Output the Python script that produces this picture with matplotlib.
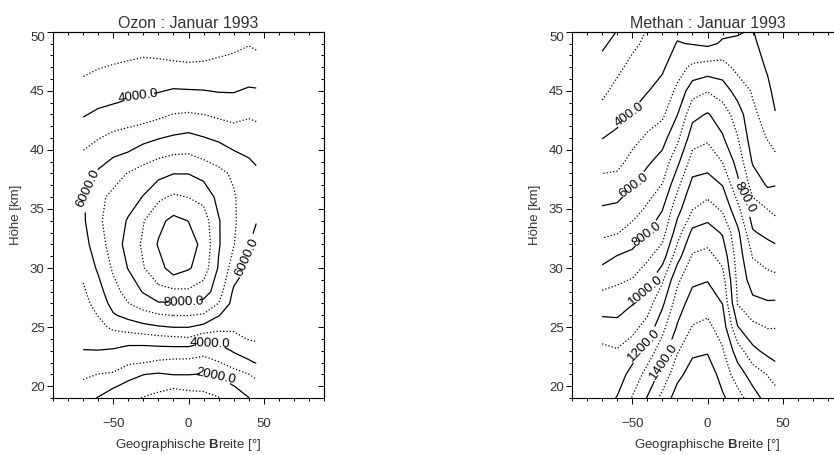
import matplotlib.pyplot as plt
import numpy as np
from matplotlib.ticker import MultipleLocator

plt.rcParams['font.family'] = ['Liberation Sans', 'DejaVu Sans']
plt.rcParams['mathtext.fontset'] = 'custom'
plt.rcParams['mathtext.bf'] = 'Liberation Sans:bold'
plt.rcParams['mathtext.rm'] = 'Liberation Sans'

# Gitter: geographische Breite und Hoehe (km)
breite = [-70, -60, -50, -40, -30, -20, -10, 0, 10, 20, 30, 40, 45]
hoehe_ozon = [19, 20, 21, 22, 23, 24, 25, 26, 27, 28, 30, 32, 34, 36, 38, 40, 42, 44, 46, 48, 50, 51]
hoehe_methan = [19, 21, 23, 25, 27, 29, 31, 33, 35, 37, 39, 41, 43, 45, 47, 49, 51]

# Ozon, je Zeile ein Breitengrad (Werte von unten nach oben)
ozon = [
    [2350, 2750, 3200, 3600, 3980, 4200, 4400, 4550, 4700, 4850, 5250, 5600, 5850, 5880, 5600, 4980, 4250, 3600, 3050, 2550, 2100, 1900],
    [1950, 2500, 2980, 3500, 3980, 4350, 4700, 5030, 5350, 5630, 6150, 6600, 6850, 6800, 6150, 5330, 4600, 3800, 3250, 2650, 2150, 1950],
    [1500, 2100, 2900, 3450, 3900, 4500, 5200, 5900, 6350, 6650, 7150, 7400, 7400, 7200, 6650, 5700, 4800, 3950, 3400, 2750, 2300, 2100],
    [1300, 1750, 2300, 3150, 3650, 4450, 5450, 6300, 6980, 7350, 8050, 8400, 8100, 7550, 7050, 5900, 4950, 4100, 3500, 2850, 2350, 2150],
    [950, 1500, 2020, 3020, 3600, 4500, 5700, 6700, 7400, 8080, 8950, 9150, 8950, 8050, 7400, 6300, 5100, 4200, 3550, 2950, 2400, 2200],
    [750, 1250, 1900, 2850, 3600, 4650, 5900, 6900, 7900, 8750, 9600, 10080, 9750, 8800, 7700, 6600, 5300, 4300, 3600, 2900, 2350, 2150],
    [600, 1100, 2030, 2750, 3600, 4750, 6020, 7020, 7900, 8800, 10500, 10900, 10250, 9150, 7980, 6750, 5550, 4500, 3650, 2800, 2300, 2100],
    [650, 1200, 2030, 2750, 3550, 4850, 6020, 7020, 7900, 8850, 10100, 10400, 9980, 8980, 7980, 6800, 5700, 4500, 3600, 2750, 2250, 2050],
    [700, 1250, 1950, 2600, 3350, 4350, 5700, 6900, 7700, 8500, 9550, 9750, 9500, 8700, 7650, 6550, 5550, 4450, 3600, 2800, 2300, 2100],
    [950, 1550, 2100, 2950, 3550, 4350, 5350, 6050, 6980, 7450, 7900, 8100, 8080, 7700, 7250, 6350, 5300, 4350, 3550, 2950, 2400, 2200],
    [1500, 1980, 2600, 3400, 4100, 4750, 5150, 5400, 5650, 5850, 6550, 7050, 7150, 7100, 6850, 5980, 5120, 4250, 3650, 3050, 2550, 2350],
    [1980, 2400, 2980, 3850, 4450, 5050, 5300, 5450, 5570, 5680, 5860, 6020, 6300, 6420, 6300, 5850, 5250, 4480, 3750, 3200, 2700, 2500],
    [2250, 2650, 3250, 4050, 4600, 5100, 5300, 5420, 5520, 5600, 5750, 5850, 6020, 6200, 6150, 5700, 5150, 4400, 3750, 3100, 2650, 2450],
]

# Methan, je Zeile ein Breitengrad
methan = [
    [1160, 1145, 1125, 1040, 950, 860, 765, 680, 610, 535, 465, 398, 330, 280, 230, 185, 150],
    [1205, 1150, 1107, 1032, 952, 885, 803, 694, 620, 545, 470, 422, 370, 325, 280, 225, 180],
    [1305, 1235, 1150, 1070, 995, 905, 825, 740, 655, 595, 530, 470, 405, 370, 325, 280, 240],
    [1405, 1335, 1245, 1135, 1055, 965, 880, 797, 715, 650, 585, 515, 455, 395, 355, 320, 290],
    [1530, 1430, 1350, 1270, 1180, 1085, 950, 860, 795, 705, 635, 565, 480, 435, 385, 355, 330],
    [1650, 1570, 1490, 1410, 1350, 1280, 1160, 1050, 965, 875, 775, 675, 598, 520, 460, 405, 360],
    [1680, 1645, 1580, 1505, 1445, 1380, 1310, 1225, 1095, 1030, 945, 855, 770, 660, 520, 395, 340],
    [1690, 1660, 1590, 1525, 1460, 1395, 1330, 1245, 1140, 1045, 960, 885, 808, 695, 540, 380, 330],
    [1615, 1560, 1510, 1455, 1398, 1340, 1265, 1190, 1085, 998, 897, 810, 755, 650, 540, 410, 360],
    [1540, 1450, 1350, 1205, 1095, 1075, 1055, 1025, 930, 825, 765, 705, 650, 560, 470, 415, 370],
    [1445, 1355, 1225, 1125, 1025, 955, 895, 810, 740, 660, 590, 545, 520, 490, 460, 420, 390],
    [1360, 1295, 1170, 1095, 1010, 930, 860, 775, 698, 590, 545, 495, 460, 425, 385, 355, 330],
    [1345, 1260, 1150, 1097, 1012, 925, 845, 760, 675, 598, 525, 465, 405, 370, 345, 325, 310],
]

stufen_ozon = [1000, 2000, 3000, 4000, 5000, 6000, 7000, 8000, 9000, 10000]
beschr_ozon = [2000, 4000, 6000, 8000]
stufen_methan = [200, 300, 400, 500, 600, 700, 800, 900, 1000, 1100, 1200, 1300, 1400, 1500, 1600]
beschr_methan = [400, 600, 800, 1000, 1200, 1400]

# wo die Beschriftungen ungefaehr sitzen
orte_ozon = [(-33, 44.3), (-65, 36.5), (-3, 27.1), (38, 31.0), (14, 23.7), (18, 21.0)]
orte_methan = [(-51, 42.6), (-49, 37.0), (-42, 33.3), (-42, 28.5), (-42, 23.5), (-28, 22.0), (23, 35.8)]

textfarbe = '#333333'


def panel(ax, werte, hoehe, stufen, beschr, orte, titel, schritt):
    z = np.array(werte).T
    rest = [s for s in stufen if s not in beschr]
    stile = ['solid' if s % (2 * schritt) == 0 else 'dotted' for s in rest]
    ax.contour(breite, hoehe, z, levels=rest, colors='k',
               linewidths=0.9, linestyles=stile)
    cs = ax.contour(breite, hoehe, z, levels=beschr, colors='k',
                    linewidths=0.9, linestyles='solid')
    ax.clabel(cs, fmt='%.1f', fontsize=9.5, colors='k',
              manual=orte, inline_spacing=4)

    ax.set_xlim(-90, 90)
    ax.set_ylim(19, 50)
    ax.set_xticks([-50, 0, 50])
    ax.set_yticks([20, 25, 30, 35, 40, 45, 50])
    ax.xaxis.set_minor_locator(MultipleLocator(10))
    ax.yaxis.set_minor_locator(MultipleLocator(1))
    ax.tick_params(which='both', direction='out', width=0.7, colors='k',
                   labelcolor=textfarbe, labelsize=9.5)
    ax.tick_params(which='major', length=4.5)
    ax.tick_params(which='minor', length=2.2)
    ax.tick_params(axis='x', pad=10)
    ax.tick_params(axis='y', pad=1.5)
    for sp in ax.spines.values():
        sp.set_linewidth(0.8)

    # obere und rechte Achse mit Ticks nach innen
    oben = ax.secondary_xaxis('top')
    oben.set_xticks([-50, 0, 50])
    oben.xaxis.set_minor_locator(MultipleLocator(10))
    oben.tick_params(which='both', direction='in', width=0.7, labeltop=False)
    oben.tick_params(which='major', length=4.5)
    oben.tick_params(which='minor', length=2.2)
    rechts = ax.secondary_yaxis('right')
    rechts.set_yticks([20, 25, 30, 35, 40, 45, 50])
    rechts.yaxis.set_minor_locator(MultipleLocator(1))
    rechts.tick_params(which='both', direction='in', width=0.7, labelright=False)
    rechts.tick_params(which='major', length=4.5)
    rechts.tick_params(which='minor', length=2.2)

    # oberste Beschriftung (50) sitzt unterhalb ihres Ticks
    ax.yaxis.get_major_ticks()[-1].label1.set_va('top')

    ax.set_title(titel, fontsize=11.5, color=textfarbe, pad=3)
    ax.set_xlabel(r'Geographische $\mathbf{B}$reite [°]', fontsize=9.5,
                  color=textfarbe, labelpad=5)
    ax.set_ylabel('Höhe [km]', fontsize=9.5, color=textfarbe, labelpad=6)


fig = plt.figure(figsize=(8.34, 4.55), dpi=100)
ax1 = fig.add_axes([53 / 834, 57 / 455, 271 / 834, 366.3 / 455])
ax2 = fig.add_axes([572 / 834, 57 / 455, 271 / 834, 366.3 / 455])

panel(ax1, ozon, hoehe_ozon, stufen_ozon, beschr_ozon, orte_ozon,
      'Ozon : Januar 1993', 1000)
panel(ax2, methan, hoehe_methan, stufen_methan, beschr_methan, orte_methan,
      'Methan : Januar 1993', 100)

fig.savefig('out.png', dpi=100)
